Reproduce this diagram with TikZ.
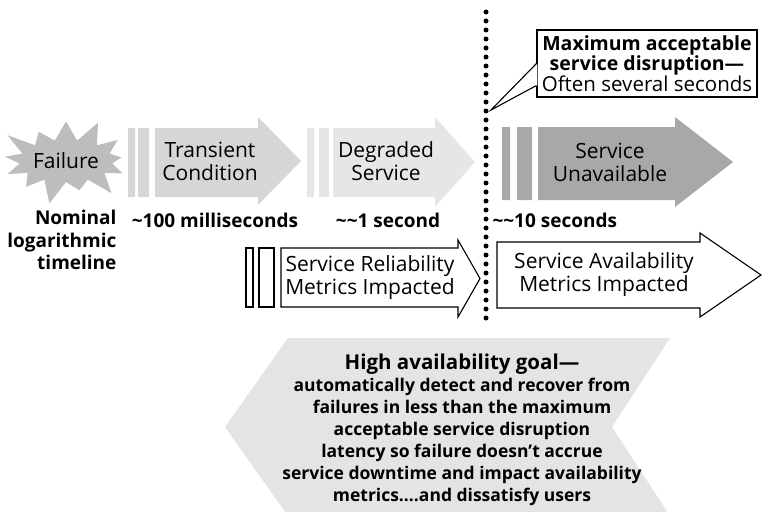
\documentclass[tikz,border=0pt]{standalone}
\usepackage{fontspec}
\setmainfont{Open Sans}
\usetikzlibrary{shapes.symbols, positioning, calc}

\definecolor{starGray}{HTML}{BDBDBD}
\definecolor{transGray}{HTML}{D6D6D6}
\definecolor{degrGray}{HTML}{E6E6E6}
\definecolor{unavGray}{HTML}{A8A8A8}
\definecolor{goalGray}{HTML}{E4E4E4}

% block arrow: style, x left, x head base, x tip, y top, y bottom, y head top, y head bottom
\newcommand{\blockarrow}[8]{%
  \path[#1] (#2,#5) -- (#3,#5) -- (#3,#7) -- (#4,{(#7+#8)/2}) -- (#3,#8) -- (#3,#6) -- (#2,#6) -- cycle;}

\tikzset{
  phasetext/.style={align=center, font=\fontsize{21}{23}\selectfont},
  timetext/.style={font=\fontsize{19}{22.5}\selectfont\bfseries},
  outlined/.style={draw=black, fill=white, line width=1.1pt},
  dotline/.style={line width=5pt, line cap=round, dash pattern=on 0pt off 9pt}
}

\begin{document}
\begin{tikzpicture}[x=1pt, y=-1pt]
  \clip (0,0) rectangle (762,511);

  % failure burst
  \node[starburst, fill=starGray, minimum width=122pt, minimum height=94pt,
        starburst points=13, starburst point height=26pt, inner sep=0pt,
        phasetext] (failure) at (66,161) {Failure};

  % transient condition
  \fill[transGray] (128,128) rectangle (135,197) (138,128) rectangle (149,197);
  \blockarrow{fill=transGray}{155}{258}{301}{128}{197}{117}{205}
  \node[phasetext] (transient) at (210,161) {Transient\\Condition};

  % degraded service
  \fill[degrGray] (307,128) rectangle (314,197) (319,128) rectangle (329,197);
  \blockarrow{fill=degrGray}{333}{435}{475}{128}{197}{117}{207}
  \node[phasetext] (degraded) at (386,161) {Degraded\\Service};

  % service unavailable
  \fill[unavGray] (502,127) rectangle (510,200) (517,127) rectangle (532,200);
  \blockarrow{fill=unavGray}{538}{675}{733}{127}{200}{117}{207}
  \node[phasetext] (unavailable) at (610,162) {Service\\Unavailable};

  % timeline
  \node[timetext, align=right, anchor=north east] (nominal) at (120,207) {Nominal\\logarithmic\\timeline};
  \node[timetext] (ms100) at (215,220) {\textasciitilde100 milliseconds};
  \node[timetext] (sec1) at (388,220) {\textasciitilde\textasciitilde1 second};
  \node[timetext, anchor=west] (sec10) at (489,220) {\textasciitilde\textasciitilde10 seconds};

  % impacted metrics
  \draw[outlined] (246,248) rectangle (253,307) (259,248) rectangle (274,307);
  \blockarrow{outlined}{281}{458}{480}{248}{307}{240}{317}
  \node[phasetext] (reliability) at (370,278) {Service Reliability\\Metrics Impacted};
  \blockarrow{outlined}{497}{700}{761}{242}{308}{233}{317}
  \node[phasetext] (availability) at (604,275) {Service Availability\\Metrics Impacted};

  % goal
  \fill[goalGray] (288,338) -- (670,338) -- (612,427) -- (670,516) -- (288,516) -- (225,427) -- cycle;
  \node[align=center, font=\fontsize{17.5}{22}\selectfont\bfseries] (goal) at (462,430)
    {{\fontsize{20.5}{22}\selectfont High availability goal---}\\
     automatically detect and recover from\\
     failures in less than the maximum\\
     acceptable service disruption\\
     latency so failure doesn't accrue\\
     service downtime and impact availability\\
     metrics\dots.and dissatisfy users};

  % maximum disruption limit
  \coordinate (dtop) at (486,12);
  \coordinate (dbot) at (486,324);
  \coordinate (limit) at (491,110);
  \node[draw=black, fill=white, line width=1.1pt, minimum width=220pt, minimum height=67pt,
        align=center, inner sep=1pt, font=\fontsize{19.5}{20.5}\selectfont] (callout) at (647,63.5)
    {\textbf{Maximum acceptable}\\\textbf{service disruption---}\\{\fontsize{20.5}{20.5}\selectfont Often several seconds}};
  \fill[white] ([xshift=1pt]callout.west) -- (limit) -- ([xshift=1pt, yshift=-22pt]callout.west) -- cycle;
  \draw[line width=1.1pt] (callout.west) -- (limit) -- ([yshift=-22pt]callout.west);
  \draw[dotline] (dtop) -- (dbot);
\end{tikzpicture}
\end{document}
